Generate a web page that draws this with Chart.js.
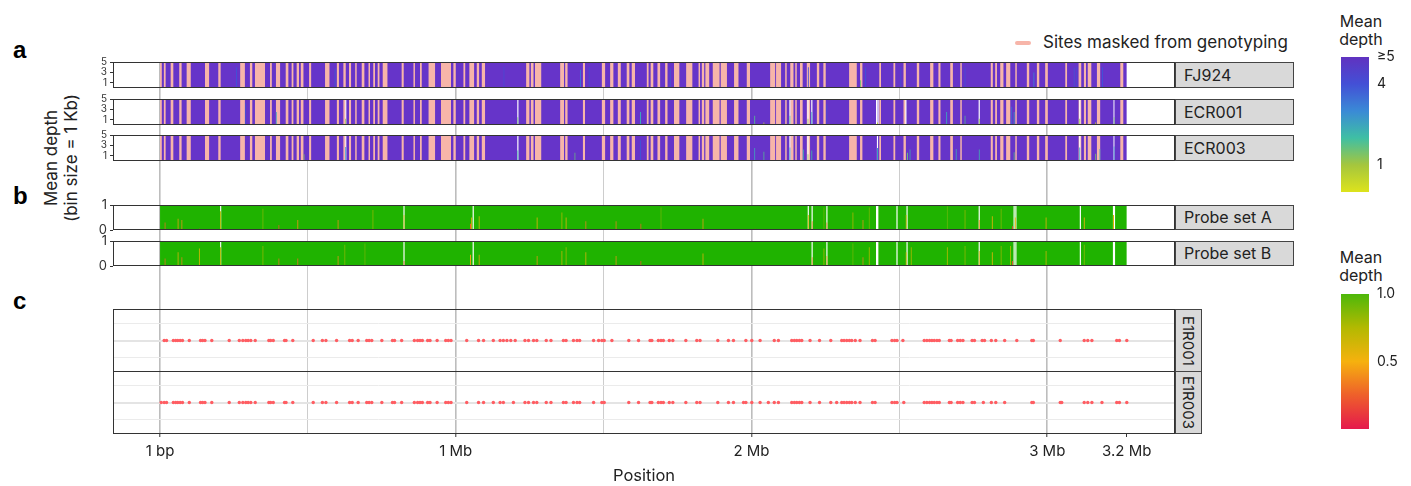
<!DOCTYPE html>
<html>
<head>
<meta charset="utf-8">
<script src="https://cdn.jsdelivr.net/npm/chart.js"></script>
<style>
  body { margin: 0; background: #fff; font-family: Inter, 'Noto Sans', sans-serif; color: #222; }
  #fig { position: relative; width: 1411px; height: 486px; overflow: hidden; }
  #fig canvas { position: absolute; }
  .txt { position: absolute; white-space: nowrap; }
  .panel { position: absolute; font: bold 24px 'Liberation Sans', Arial, sans-serif; line-height: 24px; color: #000; }
  .strip { position: absolute; background: #d9d9d9; border: 1px solid #444; box-sizing: border-box; font-size: 16px; padding-left: 8px; }
  .vstrip { position: absolute; background: #d9d9d9; border: 1px solid #444; box-sizing: border-box; font-size: 15px; writing-mode: vertical-rl; text-align: center; }
</style>
</head>
<body>
<div id="fig">
  <div class="panel" style="left:13px;top:38px">a</div>
  <div class="panel" style="left:13px;top:184px">b</div>
  <div class="panel" style="left:13px;top:289px">c</div>
  <div class="txt" style="left:-49px;top:138px;width:220px;height:40px;line-height:20px;font-size:17px;text-align:center;transform:rotate(-90deg)">Mean depth<br>(bin size = 1 Kb)</div>
  <div class="txt" style="left:1015px;top:41px;width:16px;height:4px;background:#f7b5a9;border-radius:2px"></div>
  <div class="txt" style="left:1043px;top:32px;font-size:17px;line-height:20px">Sites masked from genotyping</div>
  <div class="txt" style="left:1311px;top:12px;width:100px;text-align:center;font-size:16px;line-height:18px">Mean<br>depth</div>
  <div class="txt" style="left:1311px;top:248px;width:100px;text-align:center;font-size:16px;line-height:18px">Mean<br>depth</div>
</div>
<script>
// ─── DADOS ───────────────────────────────────────────────────────────────────
// positions are in kb along the genome
var X_MIN = -159, X_MAX = 3432;
var GENOME_END = 3269;
var X_TICKS = [0, 500, 1000, 1500, 2000, 2500, 3000, 3269];
var X_TICK_LABELS = ['1 bp', '', '1 Mb', '', '2 Mb', '', '3 Mb', '3.2 Mb'];
var X_MAJOR = [0, 1000, 2000, 3000];

var DEPTH_SAMPLES = ['FJ924', 'ECR001', 'ECR003'];
var DEPTH_TICKS = [1, 3, 5];

// masked site clusters [start, end]
var MASKED = [[0,6],[13,19],[36,45],[65,73],[90,104],[152,166],[197,205],[271,287],[304,312],[321,355],
  [372,378],[392,406],[425,434],[445,451],[462,470],[476,485],[504,511],[558,573],[598,605],[620,628],
  [639,646],[660,665],[682,691],[705,710],[721,727],[736,742],[753,769],[817,824],[857,862],[879,885],
  [908,930],[950,984],[992,1000],[1026,1032],[1046,1062],[1071,1079],[1088,1099],[1238,1249],[1254,1263],
  [1268,1289],[1353,1366],[1370,1378],[1430,1437],[1494,1505],[1522,1533],[1548,1558],[1578,1587],
  [1595,1606],[1646,1652],[1659,1668],[1682,1691],[1708,1716],[1738,1756],[1779,1800],[1821,1826],
  [1832,1840],[1844,1857],[1869,1892],[1896,1917],[1941,1956],[1984,1995],[2063,2080],[2083,2100],
  [2114,2119],[2131,2142],[2148,2153],[2164,2173],[2187,2198],[2221,2229],[2243,2251],[2330,2356],
  [2367,2375],[2432,2438],[2480,2486],[2514,2522],[2559,2567],[2604,2615],[2632,2639],[2672,2681],
  [2706,2711],[2809,2816],[2824,2830],[2841,2852],[2861,2875],[2892,2897],[2931,2939],[2965,2973],
  [2993,3002],[3061,3067],[3106,3115],[3124,3131],[3137,3149],[3168,3179],[3247,3258]];

// low-depth bins [position, mean depth] and empty bins
var DIPS_FJ924 = [[257,4.0],[590,3.8],[1161,4.1],[1420,3.5],[1449,4.0],[1723,3.8],[2190,4.0],[2367,1.5],
  [2384,4.0],[2503,4.1],[2720,4.0],[2953,3.0],[3089,3.9],[3098,4.1],[3185,4.0]];
var GAPS_FJ924 = [];
var DIPS_ECR001 = [[287,4.2],[391,2.5],[626,1.2],[1208,1.5],[1623,2.5],[2009,1.8],[2040,0.5],[2128,1.8],
  [2189,1.2],[2202,2.5],[2253,4.0],[2424,0.5],[2658,2.5],[2720,1.8],[2768,1.2],[2878,3.5],[2886,2.5],
  [3108,1.2],[3162,0.5],[3224,1.5]];
var GAPS_ECR001 = [626, 1208, 2128, 2189, 2202, 2421, 2426, 2520, 2768, 3108, 3224];
var DIPS_ECR003 = [[485,1.3],[626,2.7],[1208,2.0],[1401,1.6],[1623,4.0],[2009,2.5],[2040,1.8],[2128,2.6],
  [2173,2.2],[2189,1.3],[2202,2.0],[2424,2.5],[2525,1.6],[2534,2.2],[2690,2.3],[2768,2.2],[2886,1.7],
  [3108,2.6],[3162,1.4],[3176,2.3],[3224,2.8]];
var GAPS_ECR003 = [626, 1208, 2128, 2189, 2424, 3108, 3224];

var PROBE_SETS = ['Probe set A', 'Probe set B'];
var PROBE_TICKS = [0, 1];
var DIPS_PROBE_A = [[15,0.3],[59,0.45],[72,0.4],[131,0.05],[203,0.75],[346,0.85],[400,0.2],[464,0.4],
  [600,0.4],[684,0.05],[718,0.8],[823,0.6],[1048,0.25],[1052,0.5],[1077,0.55],[1206,0.05],[1273,0.5],
  [1357,0.7],[1371,0.5],[1438,0.35],[1540,0.35],[1624,0.25],[1692,0.9],[1834,0.45],[2010,0.05],
  [2190,0.6],[2203,0.35],[2243,0.9],[2253,0.3],[2341,0.7],[2375,0.4],[2396,0.9],[2521,0.6],[2660,0.95],
  [2720,0.8],[2768,0.4],[2812,0.55],[2842,0.85],[2881,0.15],[2890,0.5],[2994,0.5],[3123,0.5],[3222,0.6]];
var GAPS_PROBE_A = [203, 823, 1057, 2190, 2203, 2253, 2421, 2425, 2490, 2524, 2768, 2886, 2892, 3110, 3222, 3226];
var DIPS_PROBE_B = [[15,0.3],[59,0.55],[72,0.35],[131,0.7],[203,0.75],[346,0.8],[400,0.3],[464,0.3],
  [600,0.4],[623,0.85],[691,0.9],[823,0.2],[1048,0.45],[1077,0.45],[1273,0.4],[1357,0.6],[1371,0.75],
  [1438,0.55],[1540,0.4],[1624,0.2],[1834,0.5],[2203,0.35],[2243,0.7],[2253,0.4],[2341,0.9],[2375,0.35],
  [2396,0.75],[2521,0.55],[2538,0.75],[2660,0.75],[2720,0.8],[2768,0.6],[2812,0.55],[2842,0.8],
  [2874,0.8],[2881,0.2],[2994,0.6],[3123,0.85]];
var GAPS_PROBE_B = [203, 823, 1057, 2203, 2253, 2421, 2425, 2490, 2524, 2768, 2886, 2892, 3110, 3222, 3226];

var SITE_SAMPLES = ['E1R001', 'E1R003'];
var SITES_E1R001 = [14,22,45,53,60,68,76,99,137,144,152,175,234,268,280,290,298,307,322,368,374,383,421,
  426,449,518,549,561,597,641,650,670,699,707,716,750,786,793,817,860,871,879,887,905,913,937,966,975,984,
  1037,1077,1094,1127,1150,1161,1173,1186,1201,1234,1246,1263,1274,1306,1322,1364,1373,1398,1410,1419,
  1466,1483,1494,1502,1528,1585,1618,1657,1663,1685,1694,1702,1722,1734,1778,1815,1826,1886,1922,1939,
  1981,2001,2029,2077,2091,2136,2145,2153,2162,2170,2198,2230,2268,2305,2313,2322,2331,2339,2351,2367,
  2409,2418,2475,2484,2492,2512,2584,2593,2602,2610,2618,2627,2635,2669,2675,2697,2706,2715,2746,2754,
  2780,2788,2811,2826,2856,2897,2948,2953,3044,3125,3137,3151,3235,3244,3269];
var SITES_E1R003 = [4,14,22,45,53,60,68,76,99,137,144,152,175,234,268,280,290,298,307,322,368,374,383,421,
  426,449,518,549,561,597,641,650,670,699,707,716,750,786,793,817,860,871,879,887,905,913,937,966,975,984,
  1037,1077,1094,1127,1150,1161,1195,1234,1246,1263,1274,1306,1322,1364,1373,1398,1410,1419,1466,1494,
  1502,1585,1618,1657,1663,1685,1694,1702,1722,1734,1778,1815,1826,1886,1922,1939,1973,1981,2001,2029,
  2057,2077,2091,2136,2145,2153,2162,2170,2198,2230,2268,2288,2305,2313,2322,2331,2339,2351,2367,2409,
  2418,2475,2484,2492,2515,2584,2593,2602,2610,2618,2627,2635,2669,2675,2697,2706,2715,2746,2754,2784,
  2811,2826,2856,2948,2953,3044,3049,3125,3137,3151,3185,3235,3244,3269];

// colour scales [value, colour]
var DEPTH_COLORS = [[0,'#dde31c'],[1,'#a5c63d'],[2,'#3fbfa4'],[3,'#3a8ad6'],[4,'#4350d6'],[5,'#6032c0']];
var DEPTH_BAR_TICKS = [1, 4, 5];
var DEPTH_BAR_LABELS = ['1', '4', '\u22655'];
var PROBE_COLORS = [[0,'#e5194c'],[0.25,'#ee5f2b'],[0.5,'#f6b10e'],[0.75,'#b3b901'],[1,'#4db80a']];
var PROBE_BAR_TICKS = [0.5, 1];
var PROBE_BAR_LABELS = ['0.5', '1.0'];

// ─── ESTILO ──────────────────────────────────────────────────────────────────
var MASK_COLOR = '#f7b5a9';
var DEPTH_FULL = '#6634c9';
var PROBE_FULL = '#1fb300';
var SITE_COLOR = '#ff5d62';
var BIN_W = 4;      // kb drawn per flagged bin (about one pixel)
var PLOT_L = 113, PLOT_R = 1175, AXIS_W = 40, PAD = 7;

Chart.defaults.font.family = "Inter, 'Noto Sans', sans-serif";
Chart.defaults.color = '#222';
Chart.defaults.plugins.legend.display = false;
Chart.defaults.plugins.tooltip.enabled = false;

var fig = document.getElementById('fig');

function makeCanvas(left, top, w, h) {
  var cv = document.createElement('canvas');
  cv.width = w; cv.height = h;
  cv.style.left = left + 'px'; cv.style.top = top + 'px';
  fig.appendChild(cv);
  return cv;
}

function addStrip(cls, text, left, top, w, h) {
  var d = document.createElement('div');
  d.className = cls;
  d.textContent = text;
  d.style.left = left + 'px'; d.style.top = top + 'px';
  d.style.width = w + 'px'; d.style.height = h + 'px';
  if (cls === 'strip') d.style.lineHeight = (h - 2) + 'px';
  else d.style.lineHeight = (w - 2) + 'px';
  fig.appendChild(d);
}

function hexRgb(h) {
  return [parseInt(h.substr(1, 2), 16), parseInt(h.substr(3, 2), 16), parseInt(h.substr(5, 2), 16)];
}

function colorAt(stops, v) {
  if (v <= stops[0][0]) return stops[0][1];
  for (var i = 1; i < stops.length; i++) {
    if (v <= stops[i][0]) {
      var t = (v - stops[i - 1][0]) / (stops[i][0] - stops[i - 1][0]);
      var a = hexRgb(stops[i - 1][1]), b = hexRgb(stops[i][1]);
      return 'rgb(' + [0, 1, 2].map(function(k) { return Math.round(a[k] + (b[k] - a[k]) * t); }).join(',') + ')';
    }
  }
  return stops[stops.length - 1][1];
}

// panel border
var frame = {
  id: 'frame',
  afterDraw: function(chart) {
    var a = chart.chartArea, ctx = chart.ctx;
    ctx.save();
    ctx.strokeStyle = '#333';
    ctx.lineWidth = 1;
    ctx.strokeRect(Math.round(a.left) + 0.5, Math.round(a.top) + 0.5, Math.round(a.width) - 1, Math.round(a.height) - 1);
    ctx.restore();
  }
};

// stepped area: value v over each [start, end], zero elsewhere
function stepSet(intervals, v, color) {
  var pts = [];
  intervals.forEach(function(iv) { pts.push({x: iv[0], y: v}, {x: iv[1], y: 0}); });
  return { data: pts, stepped: true, fill: 'origin', backgroundColor: color,
           borderColor: 'transparent', borderWidth: 0, pointRadius: 0 };
}

function ticksAt(values) {
  return function(s) { s.ticks = values.map(function(v) { return {value: v}; }); };
}

// keeps label overhang from shrinking the plot area
function fixedWidth(w) {
  return function(s) { s.width = w; s.paddingTop = 0; s.paddingBottom = 0; };
}

// ─── FUNDO: grade vertical e eixo de posição ─────────────────────────────────
var bg = makeCanvas(0, 0, 1411, 486);
new Chart(bg, {
  type: 'scatter',
  data: { datasets: [{ data: [] }] },
  options: {
    responsive: false, animation: false, events: [],
    layout: { autoPadding: false, padding: { left: PLOT_L, right: 1411 - PLOT_R, top: 62, bottom: 0 } },
    scales: {
      x: {
        type: 'linear', min: X_MIN, max: X_MAX,
        afterBuildTicks: ticksAt(X_TICKS),
        afterFit: function(s) { s.height = 53; s.paddingLeft = 0; s.paddingRight = 0; },
        ticks: { autoSkip: false, maxRotation: 0, padding: 5, font: { size: 15 }, color: '#222',
                 callback: function(v, i) { return X_TICK_LABELS[i]; } },
        grid: {
          color: function(c) {
            var v = X_TICKS[c.index];
            if (v > 3000) return 'rgba(0,0,0,0)';
            return X_MAJOR.indexOf(v) >= 0 ? '#bdbdbd' : '#cdcdcd';
          },
          lineWidth: function(c) { return X_MAJOR.indexOf(X_TICKS[c.index]) >= 0 ? 1.6 : 1; },
          tickColor: function(c) { return X_TICK_LABELS[c.index] ? '#333' : 'rgba(0,0,0,0)'; },
          tickLength: 4, tickWidth: 1
        },
        border: { display: false },
        title: { display: true, text: 'Position', font: { size: 16.5 }, color: '#222', padding: { top: 0, bottom: 0 } }
      },
      y: { display: false, min: 0, max: 1 }
    }
  }
});

// ─── LINHAS DE PROFUNDIDADE (a, b) ───────────────────────────────────────────
function rowChart(top, h, yMax, yTicks, tickSize, baseColor, dips, gaps, stops, masked) {
  var cv = makeCanvas(PLOT_L - AXIS_W, top - PAD, PLOT_R - PLOT_L + AXIS_W, h + 2 * PAD);
  var datasets = [];
  dips.forEach(function(d) {
    datasets.push(stepSet([[d[0], d[0] + BIN_W]], d[1], colorAt(stops, d[1])));
  });
  datasets.push(stepSet(gaps.map(function(g) { return [g, g + BIN_W]; }), yMax, '#ffffff'));
  if (masked) datasets.push(stepSet(masked, yMax, MASK_COLOR));
  datasets.push(stepSet([[0, GENOME_END]], yMax, baseColor));
  new Chart(cv, {
    type: 'line',
    data: { datasets: datasets },
    options: {
      responsive: false, animation: false, events: [],
      layout: { autoPadding: false, padding: { top: PAD, bottom: PAD, left: 0, right: 0 } },
      scales: {
        x: { type: 'linear', min: X_MIN, max: X_MAX, display: false },
        y: {
          min: 0, max: yMax,
          afterBuildTicks: ticksAt(yTicks),
          afterFit: fixedWidth(AXIS_W),
          ticks: { autoSkip: false, padding: 3, font: { size: tickSize }, color: '#333' },
          grid: { drawOnChartArea: false, drawTicks: true, tickLength: 3, color: '#333' },
          border: { display: false }
        }
      }
    },
    plugins: [frame]
  });
}

var depthRows = [
  { top: 62, dips: DIPS_FJ924, gaps: GAPS_FJ924 },
  { top: 99, dips: DIPS_ECR001, gaps: GAPS_ECR001 },
  { top: 135, dips: DIPS_ECR003, gaps: GAPS_ECR003 }
];
depthRows.forEach(function(r, i) {
  rowChart(r.top, 26, 5, DEPTH_TICKS, 10, DEPTH_FULL, r.dips, r.gaps, DEPTH_COLORS, MASKED);
  addStrip('strip', DEPTH_SAMPLES[i], PLOT_R, r.top, 119, 26);
});

var probeRows = [
  { top: 205, dips: DIPS_PROBE_A, gaps: GAPS_PROBE_A },
  { top: 241, dips: DIPS_PROBE_B, gaps: GAPS_PROBE_B }
];
probeRows.forEach(function(r, i) {
  rowChart(r.top, 25, 1, PROBE_TICKS, 13, PROBE_FULL, r.dips, r.gaps, PROBE_COLORS, null);
  addStrip('strip', PROBE_SETS[i], PLOT_R, r.top, 119, 25);
});

// ─── SÍTIOS (c) ──────────────────────────────────────────────────────────────
function siteChart(top, h, sites) {
  var cv = makeCanvas(PLOT_L, top, PLOT_R - PLOT_L, h);
  new Chart(cv, {
    type: 'scatter',
    data: { datasets: [{ data: sites.map(function(x) { return {x: x, y: 0}; }),
                         pointRadius: 1.7, backgroundColor: SITE_COLOR, borderWidth: 0 }] },
    options: {
      responsive: false, animation: false, events: [],
      layout: { autoPadding: false, padding: 0 },
      scales: {
        x: { type: 'linear', min: X_MIN, max: X_MAX, display: false },
        y: {
          min: -1.85, max: 1.85,
          afterBuildTicks: ticksAt([-1, 0, 1]),
          afterFit: fixedWidth(0),
          ticks: { display: false },
          grid: { drawTicks: false,
                  color: function(c) { return c.tick && c.tick.value === 0 ? '#e4e4e4' : '#ebebeb'; },
                  lineWidth: function(c) { return c.tick && c.tick.value === 0 ? 2 : 1; } },
          border: { display: false }
        }
      }
    },
    plugins: [frame]
  });
}
siteChart(309, 63, SITES_E1R001);
siteChart(371, 63, SITES_E1R003);
addStrip('vstrip', SITE_SAMPLES[0], PLOT_R, 309, 27, 63);
addStrip('vstrip', SITE_SAMPLES[1], PLOT_R, 371, 27, 63);

// ─── BARRAS DE COR ───────────────────────────────────────────────────────────
function colorbar(top, lo, hi, stops, ticks, labels) {
  var cv = makeCanvas(1341, top - 10, 70, 135 + 20);
  new Chart(cv, {
    type: 'bar',
    data: { labels: [''], datasets: [{
      data: [[lo, hi]], barPercentage: 1, categoryPercentage: 1, borderWidth: 0,
      backgroundColor: function(c) {
        var a = c.chart.chartArea;
        if (!a) return stops[stops.length - 1][1];
        var g = c.chart.ctx.createLinearGradient(0, a.bottom, 0, a.top);
        stops.forEach(function(s) { g.addColorStop((s[0] - lo) / (hi - lo), s[1]); });
        return g;
      }
    }] },
    options: {
      responsive: false, animation: false, events: [],
      layout: { autoPadding: false, padding: { top: 10, bottom: 10, left: 0, right: 0 } },
      scales: {
        x: { display: false },
        y: {
          position: 'right', min: lo, max: hi, z: 1,
          afterBuildTicks: ticksAt(ticks),
          afterFit: fixedWidth(42),
          ticks: { padding: 8, font: { size: 14 }, color: '#222',
                   callback: function(v, i) { return labels[i]; } },
          grid: { color: '#ffffff', lineWidth: 1, drawTicks: false },
          border: { display: false, dash: [5, 18] }
        }
      }
    }
  });
}
colorbar(57, 0, 5, DEPTH_COLORS, DEPTH_BAR_TICKS, DEPTH_BAR_LABELS);
colorbar(294, 0, 1, PROBE_COLORS, PROBE_BAR_TICKS, PROBE_BAR_LABELS);
</script>
</body>
</html>
